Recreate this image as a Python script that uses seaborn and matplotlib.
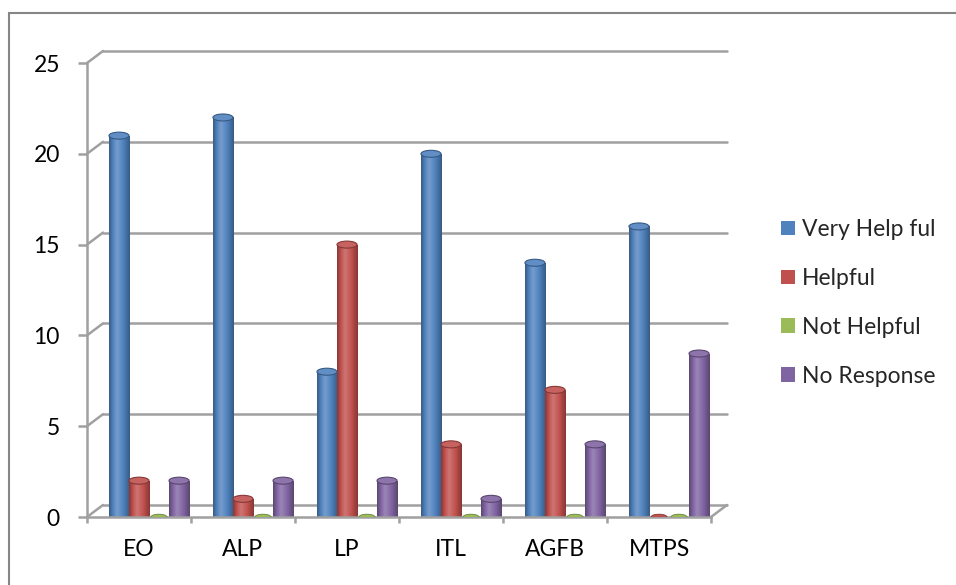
import numpy as np
import pandas as pd
import matplotlib
matplotlib.use("Agg")
import matplotlib.pyplot as plt
import seaborn as sns
from matplotlib.patches import Ellipse, Rectangle
from matplotlib.colors import LinearSegmentedColormap, to_rgb
from matplotlib.lines import Line2D

# ---- data ----
categories = ["EO", "ALP", "LP", "ITL", "AGFB", "MTPS"]
very_helpful = [21, 22, 8, 20, 14, 16]
helpful = [2, 1, 15, 4, 7, 0]
not_helpful = [0, 0, 0, 0, 0, 0]
no_response = [2, 2, 2, 1, 4, 9]
series_names = ["Very Help ful", "Helpful", "Not Helpful", "No Response"]
series_colors = ["#4F81BD", "#C0504D", "#9BBB59", "#8064A2"]
y_ticks = [0, 5, 10, 15, 20, 25]

rows = []
for name, vals in zip(series_names, [very_helpful, helpful, not_helpful, no_response]):
    for cat, v in zip(categories, vals):
        rows.append({"category": cat, "series": name, "value": v})
df = pd.DataFrame(rows)

# ---- style ----
sns.set_style("white")
plt.rcParams["font.family"] = ["Lato", "DejaVu Sans"]
GRAY = "#A0A0A0"
FS = 16.5

W, H = 956, 585
fig = plt.figure(figsize=(W / 100, H / 100), dpi=100)
fig.patch.set_facecolor("white")

# plot frame in pixel terms: front wall 87..711 horizontally, 63..517 vertically
ax = fig.add_axes([87 / W, (H - 517) / H, 624 / W, 454 / H])

sns.barplot(data=df, x="category", y="value", hue="series", order=categories,
            hue_order=series_names, palette=series_colors, width=0.77,
            saturation=1, ax=ax, legend=False)

shift = 10 / 104
x0, x1 = -0.5 - shift, 5.5 - shift
ymax = 25
ux = (x1 - x0) / 624   # data units per pixel (x)
uy = ymax / 454        # data units per pixel (y)
dxp, dyp = 16, 12      # depth offset of the back wall in pixels


def mix(c, other, t):
    c, o = np.array(to_rgb(c)), np.array(to_rgb(other))
    return tuple(c * (1 - t) + o * t)


# ---- cylinder-like shading of the bars ----
bars = [p for p in ax.patches if isinstance(p, Rectangle)]
cap_h = 7 * uy
grad = np.linspace(0, 1, 64).reshape(1, -1)
for p in bars:
    base = p.get_facecolor()[:3]
    x, w, h = p.get_x(), p.get_width(), p.get_height()
    xc = x + w / 2
    dark = mix(base, "black", 0.30)
    light = mix(base, "white", 0.22)
    cmap = LinearSegmentedColormap.from_list(
        "cyl", [(0, dark), (0.18, base), (0.38, light), (0.7, base), (1, dark)])
    p.set_facecolor("none")
    p.set_edgecolor("none")
    if h > 0:
        im = ax.imshow(grad, extent=(x, x + w, 0, h), cmap=cmap, aspect="auto",
                       interpolation="bicubic", zorder=2)
        im.set_clip_path(p)
        ax.add_patch(Ellipse((xc, 0), w, cap_h, facecolor=dark, edgecolor="none",
                             zorder=1.9))
        ax.add_patch(Ellipse((xc, h), w, cap_h, facecolor=mix(base, "white", 0.1),
                             edgecolor=dark, lw=0.8, zorder=3))
    else:
        ax.add_patch(Ellipse((xc, 0), w * 0.8, cap_h * 0.8, facecolor=base,
                             edgecolor=dark, lw=0.6, zorder=3))

ax.set_xlim(x0, x1)
ax.set_ylim(0, ymax)

# ---- back wall grid, side wall and floor edges ----
bx, by = dxp * ux, dyp * uy
for v in y_ticks:
    ax.add_line(Line2D([x0 + bx, x1 + bx], [v + by, v + by], color=GRAY, lw=1.8,
                       clip_on=False, zorder=0.5))
    ax.add_line(Line2D([x0, x0 + bx], [v, v + by], color=GRAY, lw=1.8,
                       clip_on=False, zorder=0.5))
ax.add_line(Line2D([x1, x1 + bx], [0, by], color=GRAY, lw=1.8, clip_on=False,
                   zorder=0.5))

# ---- axes, ticks, labels ----
for side in ["top", "right"]:
    ax.spines[side].set_visible(False)
for side in ["left", "bottom"]:
    ax.spines[side].set_color(GRAY)
    ax.spines[side].set_linewidth(1.8)

ax.set_yticks(y_ticks)
ax.set_yticklabels([str(t) for t in y_ticks])
ax.set_xticks([k - 0.5 - shift for k in range(len(categories) + 1)])
ax.set_xticklabels([""] * (len(categories) + 1))
ax.set_xticks([i - shift for i in range(len(categories))], labels=categories,
              minor=True)
ax.tick_params(axis="y", length=6.5, width=1.8, color=GRAY, pad=13,
               labelsize=FS, labelcolor="black", left=True)
ax.tick_params(axis="x", which="major", length=4.5, width=1.8, color=GRAY,
               bottom=True)
ax.tick_params(axis="x", which="minor", length=0, pad=16, labelsize=FS,
               labelcolor="black")
ax.set_xlabel("")
ax.set_ylabel("")

# ---- legend ----
handles = [Rectangle((0, 0), 1, 1, facecolor=c, edgecolor="none")
           for c in series_colors]
fig.legend(handles, series_names, loc="upper left",
           bbox_to_anchor=(781 / W, 1 - 219 / H), frameon=False, fontsize=FS,
           handlelength=0.61, handleheight=0.61, handletextpad=0.3,
           labelspacing=1.22, borderpad=0, borderaxespad=0)

# ---- outer chart border ----
fig.add_artist(Rectangle((9 / W, -0.05), 1.2, (H - 13) / H + 0.05,
                         transform=fig.transFigure, fill=False,
                         edgecolor="#868686", lw=1.5))

fig.savefig("out.png", dpi=100)
